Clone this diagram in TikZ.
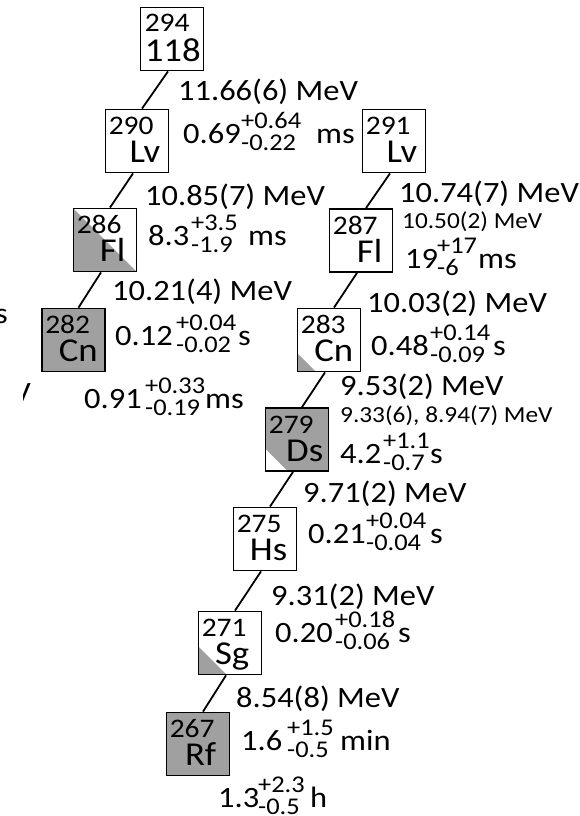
\documentclass[tikz,border=0pt]{standalone}
\usepackage{fontspec}
\setmainfont{Carlito}[FakeStretch=1.1]
\usetikzlibrary{calc}
\definecolor{nucgray}{RGB}{160,160,160}

% half-life with stacked upper/lower errors: main, shift to errors, upper, lower, shift to unit, unit
\newcommand\hl[6]{%
  \rlap{#1}\hspace*{#2pt}%
  \rlap{\raisebox{15pt}{\fontsize{24}{24}\selectfont #3}}%
  \rlap{\raisebox{-7pt}{\fontsize{24}{24}\selectfont #4}}%
  \hspace*{#5pt}#6}

\tikzset{
  nuc/.style={draw, line width=1.8pt, minimum size=63pt, inner sep=0pt, fill=white},
  fullgray/.style={fill=nucgray},
  halfgray/.style={path picture={\fill[nucgray] (path picture bounding box.north west)
      -- (path picture bounding box.south east) -- (path picture bounding box.south west) -- cycle;}},
  cornergray/.style={path picture={\fill[nucgray] ($(path picture bounding box.south west)+(0,-#1)$)
      -- ($(path picture bounding box.south west)+(#1,0)$) -- (path picture bounding box.south west) -- cycle;}},
  cornerwhite/.style={fill=nucgray, path picture={\fill[white] ($(path picture bounding box.south west)+(0,-#1)$)
      -- ($(path picture bounding box.south west)+(#1,0)$) -- (path picture bounding box.south west) -- cycle;}},
  massnum/.style={anchor=base west, inner sep=0pt, font=\fontsize{26.8}{26.8}\selectfont},
  symb/.style={anchor=base east, inner sep=0pt, font=\fontsize{33.4}{33.4}\selectfont},
  energy/.style={anchor=base west, inner sep=0pt, font=\fontsize{29.5}{29.5}\selectfont},
  energysmall/.style={anchor=base west, inner sep=0pt, font=\fontsize{23}{23}\selectfont},
  decay/.style={line width=1.8pt},
}

% nuclide box: name, x, y, mass number, symbol, symbol offset from right edge, fill style
\newcommand\nucl[7]{%
  \node[nuc,#7] (#1) at (#2,#3) {};
  \node[massnum] (#1-a) at ($(#1.north west)+(4,26)$) {#4};
  \node[symb] (#1-s) at ($(#1.north east)+(#6,54)$) {#5};
}

\begin{document}
\begin{tikzpicture}[x=1pt, y=-1pt]
\useasboundingbox (0,0) rectangle (579,816);
\clip (0,0) rectangle (579,816);

% parent
\node[nuc] (e118) at (172,39) {};
\node[massnum] (e118-a) at ($(e118.north west)+(5,25)$) {294};
\node[anchor=base west, inner sep=0pt, font=\fontsize{33.4}{33.4}\selectfont] (e118-z) at ($(e118.north west)+(5,55)$) {118};

% chain from 290Lv
\nucl{lvA}{137}{141}{290}{Lv}{-9}{}
\nucl{flA}{105}{240}{286}{Fl}{-12}{halfgray}
\nucl{cnA}{73.5}{340}{282}{Cn}{-8}{fullgray}

% chain from 291Lv
\nucl{lvB}{394}{141}{291}{Lv}{-9}{}
\nucl{flB}{361}{240.5}{287}{Fl}{-11}{}
\nucl{cnB}{329}{340}{283}{Cn}{-8}{cornergray=18}
\nucl{ds}{297}{439.5}{279}{Ds}{-6}{cornerwhite=22}
\nucl{hs}{265}{539}{275}{Hs}{-10}{}
\nucl{sg}{230}{643}{271}{Sg}{-13}{cornergray=28}
\nucl{rf}{198}{744}{267}{Rf}{-14}{fullgray}

% alpha decay links
\draw[decay] ([xshift=-4pt]e118.south) -- ([xshift=5pt]lvA.north);
\draw[decay] ([xshift=-4pt]lvA.south) -- ([xshift=5pt]flA.north);
\draw[decay] ([xshift=-4pt]flA.south) -- ([xshift=5pt]cnA.north);
\draw[decay] ([xshift=-4pt]lvB.south) -- ([xshift=5pt]flB.north);
\draw[decay] ([xshift=-4pt]flB.south) -- ([xshift=5pt]cnB.north);
\draw[decay] ([xshift=-4pt]cnB.south) -- ([xshift=5pt]ds.north);
\draw[decay] ([xshift=-4pt]ds.south) -- ([xshift=5pt]hs.north);
\draw[decay] ([xshift=-4pt]hs.south) -- ([xshift=5pt]sg.north);
\draw[decay] ([xshift=-4pt]sg.south) -- ([xshift=5pt]rf.north);

% energies and half-lives, left chain
\node[energy] (t1) at (178,100) {11.66(6) MeV};
\node[energy] (t2) at (183,143) {\hl{0.69}{58}{+0.64}{-0.22}{75}{ms}};
\node[energy] (t3) at (145,205) {10.85(7) MeV};
\node[energy] (t4) at (148,245) {\hl{8.3}{43}{+3.5}{-1.9}{57}{ms}};
\node[energy] (t5) at (112,300) {10.21(4) MeV};
\node[energy] (t6) at (115,345) {\hl{0.12}{61}{+0.04}{-0.02}{62}{s}};
\node[energy] (t7) at (84,408) {\hl{0.91}{61}{+0.33}{-0.19}{60}{ms}};

% labels of a neighbouring chain, cut by the frame
\node[energy, anchor=base east] (t8) at (8,323) {s};
\begin{scope}
  \clip (23,370) rectangle (40,410);
  \node[energy, anchor=base east] (t9) at (31,402) {MeV};
\end{scope}

% energies and half-lives, right chain
\node[energy] (r1) at (399,202) {10.74(7) MeV};
\node[energysmall] (r2) at (402,228) {10.50(2) MeV};
\node[energy] (r3) at (405,268) {\hl{19}{32}{+17}{-6}{41}{ms}};
\node[energy] (r4) at (367,312) {10.03(2) MeV};
\node[energy] (r5) at (371,355) {\hl{0.48}{59}{+0.14}{-0.09}{63}{s}};
\node[energy] (r6) at (340,395) {9.53(2) MeV};
\node[energysmall] (r7) at (340,422) {9.33(6), 8.94(7) MeV};
\node[energy] (r8) at (340,463) {\hl{4.2}{43}{+1.1}{-0.7}{47}{s}};
\node[energy] (r9) at (303,502) {9.71(2) MeV};
\node[energy] (r10) at (308,543) {\hl{0.21}{58}{+0.04}{-0.04}{64}{s}};
\node[energy] (r11) at (271,605) {9.31(2) MeV};
\node[energy] (r12) at (275,642) {\hl{0.20}{60}{+0.18}{-0.06}{63}{s}};
\node[energy] (r13) at (236,707) {8.54(8) MeV};
\node[energy] (r14) at (241,750) {\hl{1.6}{46}{+1.5}{-0.5}{53}{min}};
\node[energy] (r15) at (218,807) {\hl{1.3}{40}{+2.3}{-0.5}{52}{h}};
\end{tikzpicture}
\end{document}
